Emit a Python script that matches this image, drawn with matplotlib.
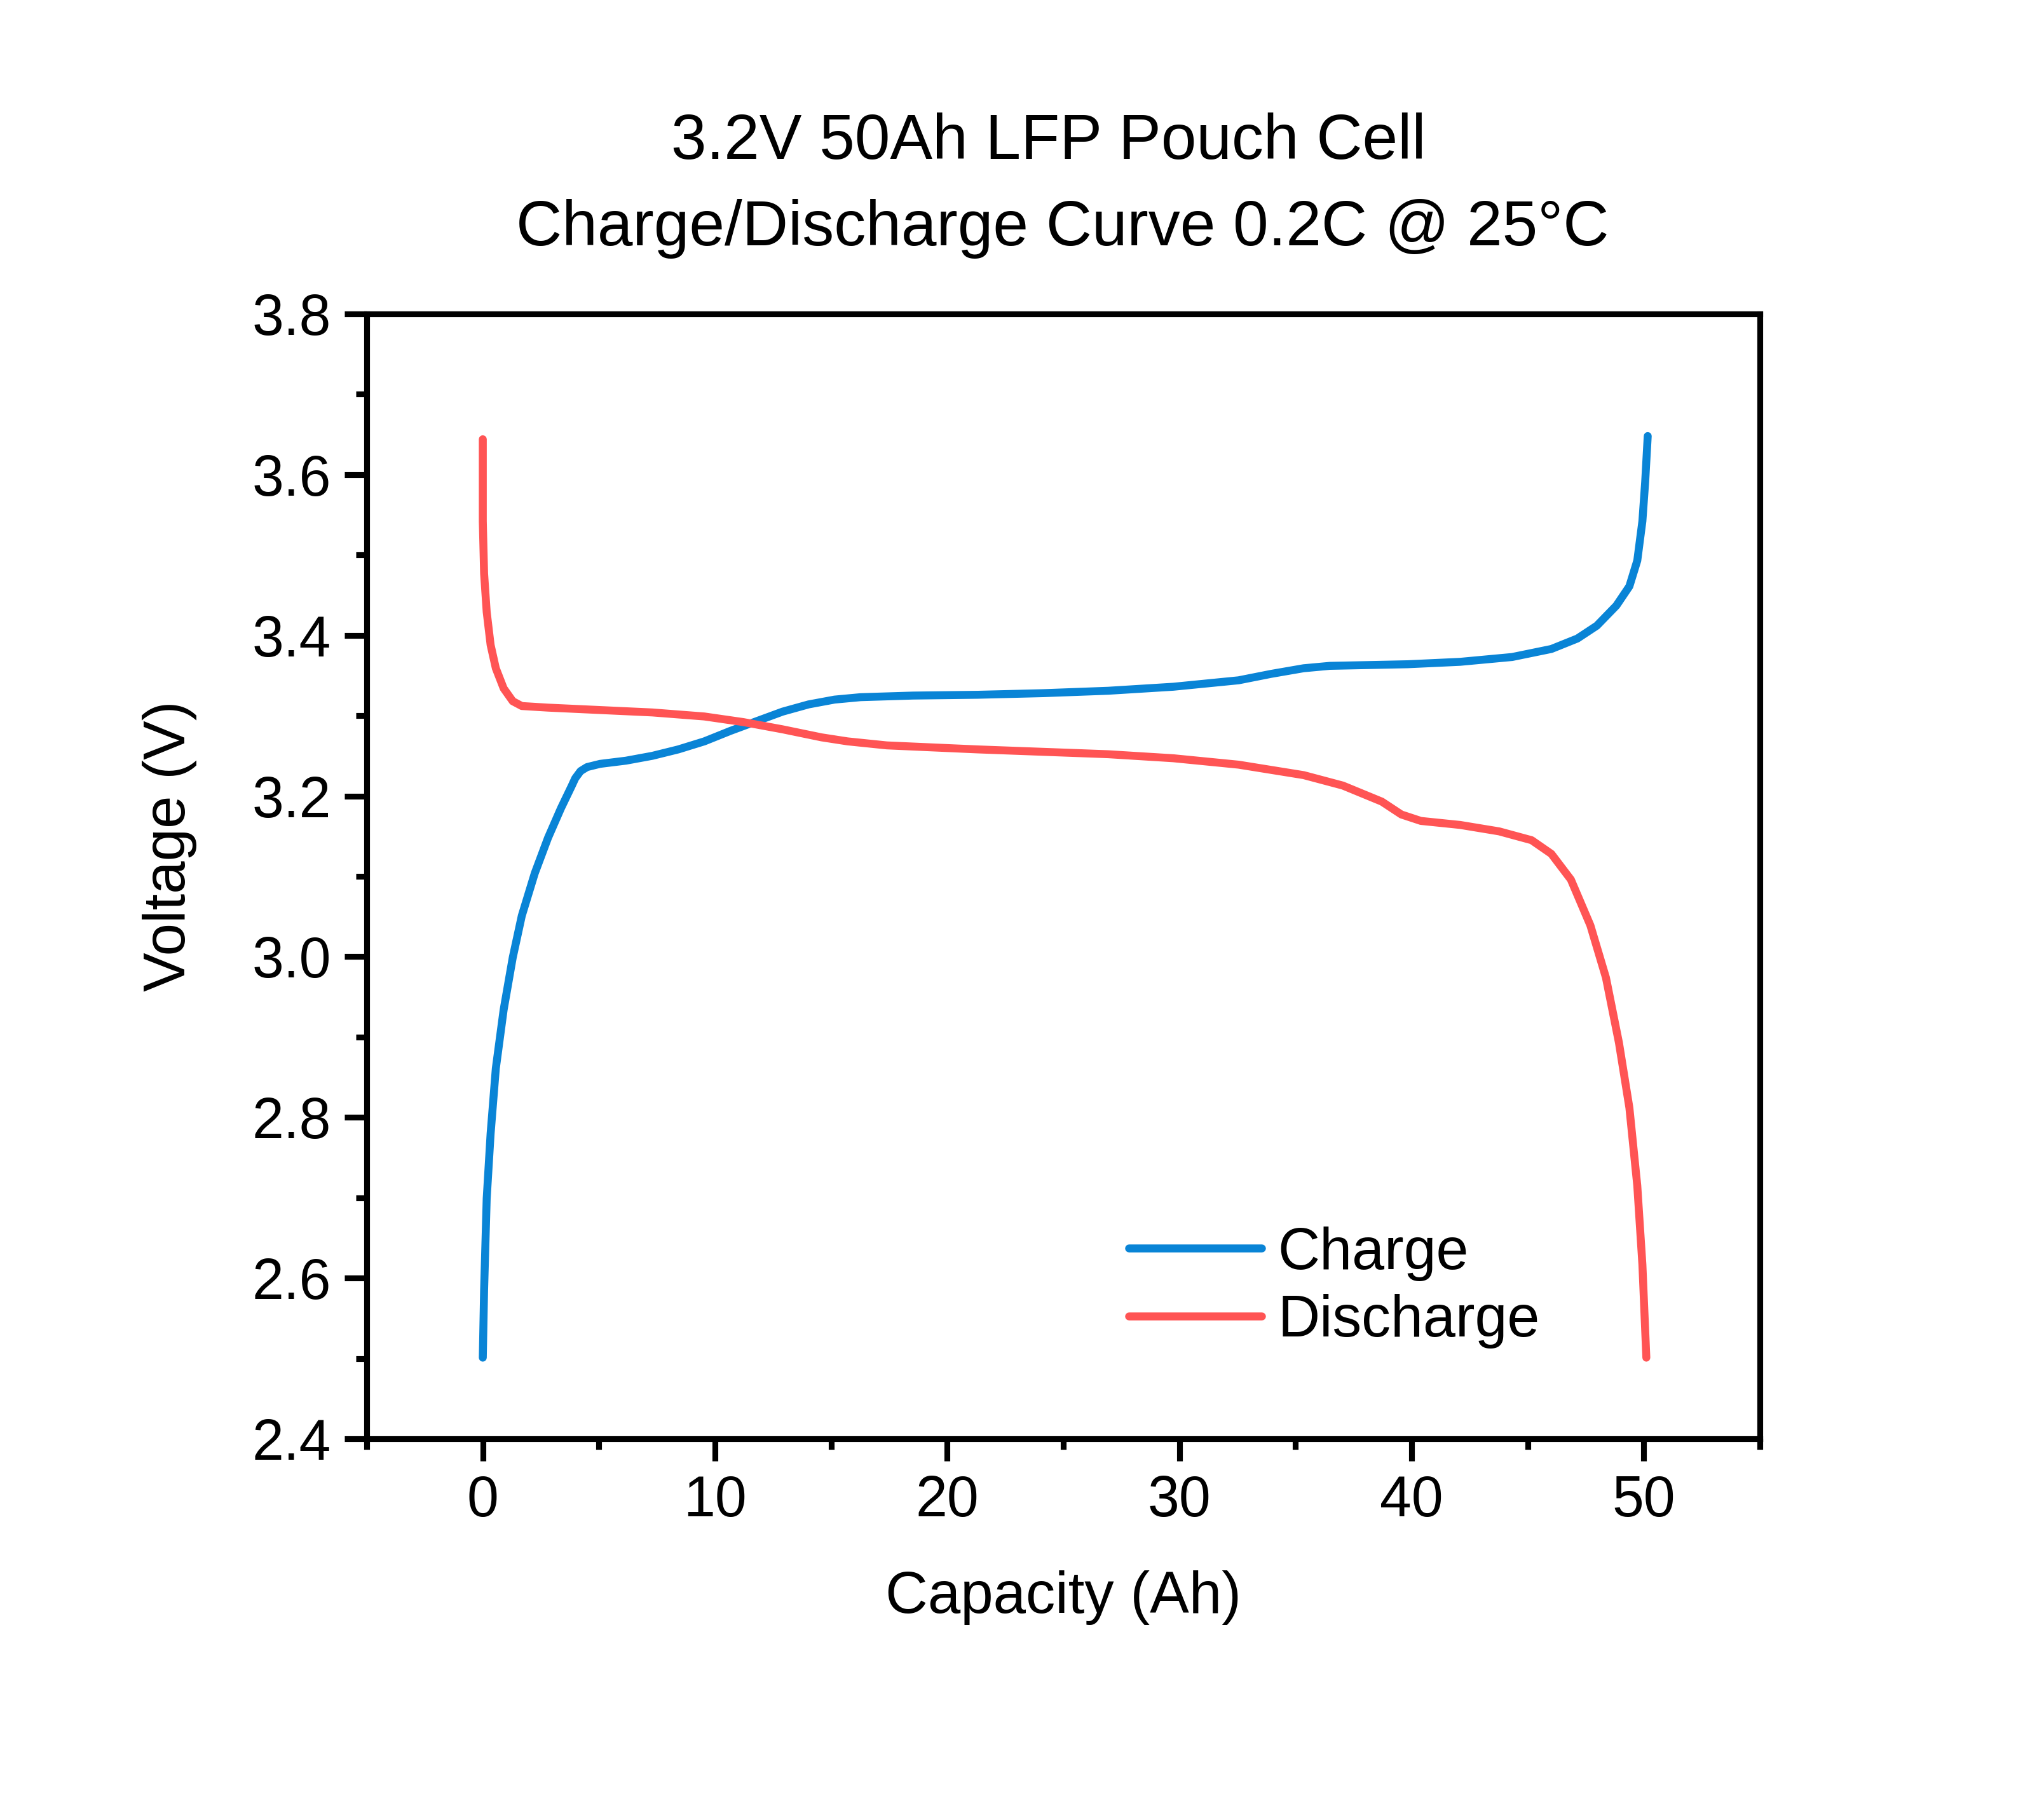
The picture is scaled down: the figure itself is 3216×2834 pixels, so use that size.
import matplotlib
matplotlib.use("Agg")
import matplotlib.pyplot as plt
from matplotlib.ticker import MultipleLocator, FormatStrFormatter

plt.rcParams['font.family'] = ['Liberation Sans', 'DejaVu Sans']

# charge curve
charge_cap = [0, 0.056, 0.168, 0.337, 0.561, 0.898, 1.29, 1.68, 2.24, 2.81, 3.37, 3.82, 3.98, 4.21,
              4.49, 5.05, 6.17, 7.30, 8.42, 9.54, 10.66, 11.78, 12.91, 14.03, 15.15, 16.27, 18.52,
              21.32, 24.13, 26.94, 29.74, 32.55, 33.95, 35.35, 36.48, 39.84, 42.09, 44.33,
              46.02, 47.14, 47.98, 48.82, 49.38, 49.72, 49.94, 50.06, 50.17]
charge_v = [2.501, 2.585, 2.699, 2.780, 2.861, 2.934, 2.999, 3.051, 3.104, 3.148, 3.185, 3.212, 3.222, 3.231,
            3.236, 3.240, 3.244, 3.250, 3.258, 3.268, 3.281, 3.293, 3.305, 3.314, 3.320, 3.323, 3.325,
            3.326, 3.328, 3.331, 3.336, 3.344, 3.352, 3.359, 3.362, 3.364, 3.367, 3.373,
            3.383, 3.396, 3.412, 3.437, 3.461, 3.493, 3.542, 3.591, 3.648]

# discharge curve
dis_cap = [0, 0, 0.056, 0.168, 0.337, 0.561, 0.898, 1.29, 1.68, 2.81, 5.05, 7.30, 9.54, 11.22,
           12.91, 14.59, 15.71, 17.40, 21.32, 24.13, 26.94, 29.74, 32.55, 35.35, 37.04, 38.72,
           39.56, 40.40, 42.09, 43.77, 45.17, 46.02, 46.86, 47.70, 48.37, 48.93, 49.38, 49.72,
           49.94, 50.11]
dis_v = [3.644, 3.542, 3.477, 3.429, 3.388, 3.359, 3.334, 3.318, 3.312, 3.310, 3.307, 3.304, 3.299, 3.292,
         3.283, 3.273, 3.268, 3.263, 3.258, 3.255, 3.252, 3.247, 3.239, 3.226, 3.213, 3.193,
         3.177, 3.169, 3.164, 3.156, 3.145, 3.128, 3.096, 3.039, 2.974, 2.893, 2.812, 2.715,
         2.617, 2.501]

fig = plt.figure(figsize=(10.72, 9.4467), dpi=300)
ax = fig.add_axes([0.1794, 0.2011, 0.6816, 0.6246])

ax.plot(charge_cap, charge_v, color='#0984D6', lw=3.0, label='Charge',
        solid_capstyle='round', solid_joinstyle='round')
ax.plot(dis_cap, dis_v, color='#FF5454', lw=3.0, label='Discharge',
        solid_capstyle='round', solid_joinstyle='round')

ax.set_xlim(-5, 55)
ax.set_ylim(2.4, 3.8)
ax.xaxis.set_major_locator(MultipleLocator(10))
ax.xaxis.set_minor_locator(MultipleLocator(5))
ax.yaxis.set_major_locator(MultipleLocator(0.2))
ax.yaxis.set_minor_locator(MultipleLocator(0.1))
ax.yaxis.set_major_formatter(FormatStrFormatter('%.1f'))

for s in ax.spines.values():
    s.set_linewidth(2.2)
ax.tick_params(which='major', direction='out', length=8.5, width=2.2, labelsize=21.5, pad=5)
ax.tick_params(which='minor', direction='out', length=4, width=2.2)

ax.set_xlabel('Capacity (Ah)', fontsize=22.2)
ax.set_ylabel('Voltage (V)', fontsize=22.2)
ax.xaxis.set_label_coords(0.5, -0.117)
ax.yaxis.set_label_coords(-0.122, 0.527)

fig.text(0.5131, 0.9118, '3.2V 50Ah LFP Pouch Cell', fontsize=24, ha='center', va='baseline')
fig.text(0.5198, 0.8638, 'Charge/Discharge Curve 0.2C @ 25°C', fontsize=24, ha='center', va='baseline')

ax.legend(loc='upper left', bbox_to_anchor=(0.547, 0.189), frameon=False, fontsize=22,
          handlelength=2.28, handletextpad=0.28, labelspacing=0.22, borderpad=0, borderaxespad=0)

fig.savefig('out.png', dpi=300)
